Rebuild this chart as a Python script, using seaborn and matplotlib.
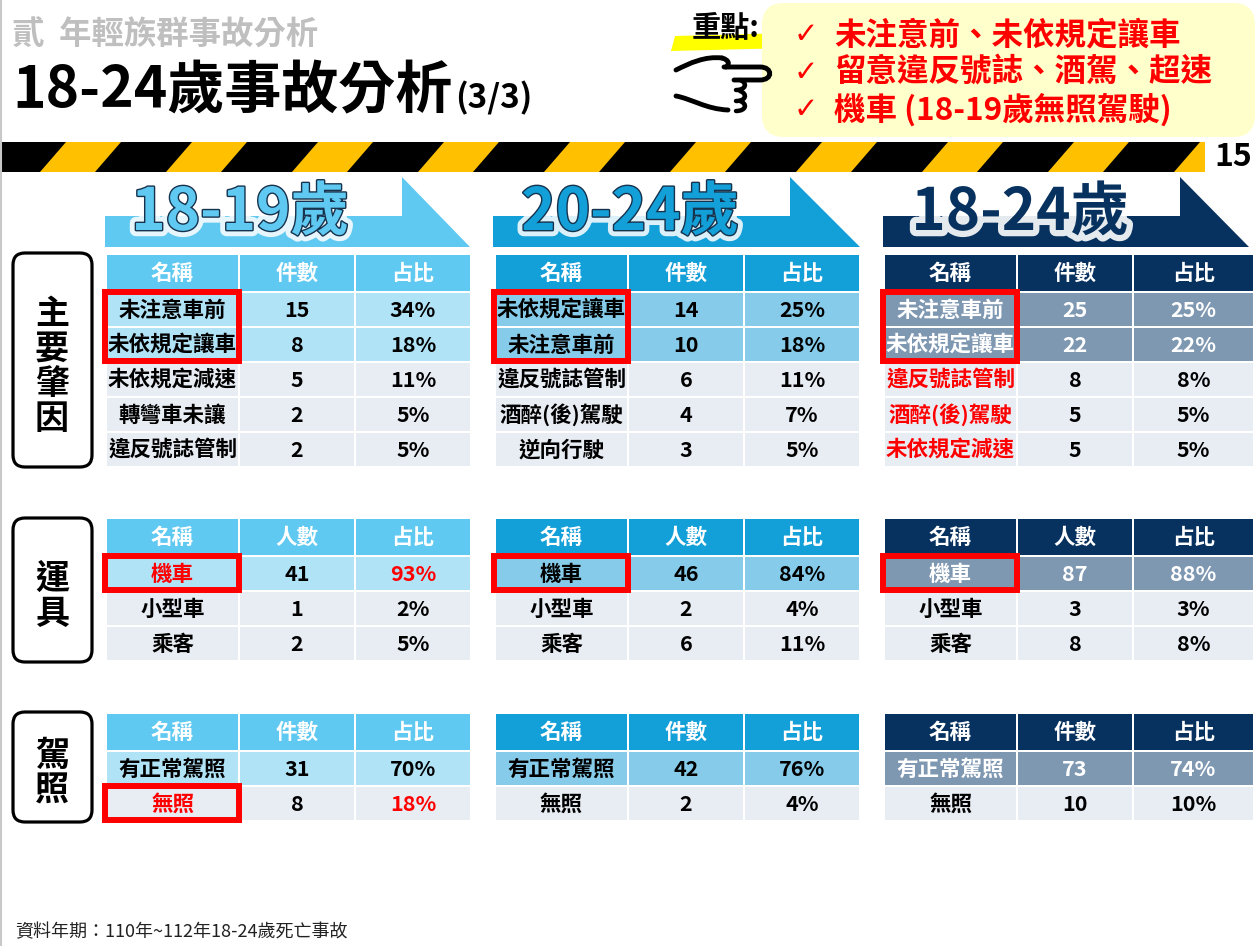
import numpy as np
import matplotlib.pyplot as plt
import seaborn as sns
from matplotlib.patches import Rectangle, Polygon, FancyBboxPatch, PathPatch
from matplotlib.path import Path
import matplotlib.patheffects as pe

sns.set_theme(style="white")
plt.rcParams['font.family'] = ['Noto Sans CJK TC', 'DejaVu Sans']

# Data

groups = ["18-19歲", "20-24歲", "18-24歲"]

cause_cols = ["名稱", "件數", "占比"]
cause_names = [
    ["未注意車前", "未依規定讓車", "未依規定減速", "轉彎車未讓", "違反號誌管制"],
    ["未依規定讓車", "未注意車前", "違反號誌管制", "酒醉(後)駕駛", "逆向行駛"],
    ["未注意車前", "未依規定讓車", "違反號誌管制", "酒醉(後)駕駛", "未依規定減速"],
]
cause_counts = [[15, 8, 5, 2, 2], [14, 10, 6, 4, 3], [25, 22, 8, 5, 5]]
cause_share = [[34, 18, 11, 5, 5], [25, 18, 11, 7, 5], [25, 22, 8, 5, 5]]

vehicle_cols = ["名稱", "人數", "占比"]
vehicle_names = ["機車", "小型車", "乘客"]
vehicle_counts = [[41, 1, 2], [46, 2, 6], [87, 3, 8]]
vehicle_share = [[93, 2, 5], [84, 4, 11], [88, 3, 8]]

license_cols = ["名稱", "件數", "占比"]
license_names = ["有正常駕照", "無照"]
license_counts = [[31, 8], [42, 2], [73, 10]]
license_share = [[70, 18], [76, 4], [74, 10]]

key_points = ["未注意前、未依規定讓車", "留意違反號誌、酒駕、超速", "機車 (18-19歲無照駕駛)"]
side_labels = ["主要肇因", "運具", "駕照"]

# Styles

header_colors = ["#5FC9F1", "#139FD7", "#07325F"]
shade_colors = ["#B1E3F7", "#86CCEA", "#7F98B2"]
shade_text = ["black", "black", "white"]
body_color = "#E8ECF3"
red = "#FF0000"

fig = plt.figure(figsize=(12.58, 9.46), dpi=100)
ax = fig.add_axes([0, 0, 1, 1])
ax.set_xlim(0, 1258)
ax.set_ylim(946, 0)
ax.axis("off")

ax.plot([1, 1], [0, 946], color="#C8C8C8", lw=1.5)

# Title area

ax.text(12, 34, "貳  年輕族群事故分析", fontsize=23.3, fontweight="bold",
        color="#BFBFBF", ha="left", va="center")
title = ax.text(12, 108, "18-24歲事故分析", fontsize=41, fontweight="bold",
                color="black", ha="left", va="baseline")
fig.canvas.draw()
bb = title.get_window_extent().transformed(ax.transData.inverted())
ax.text(bb.x1 + 3, 108, "(3/3)", fontsize=24, fontweight="bold",
        color="black", ha="left", va="baseline")

# key points box

ax.add_patch(Polygon([(675, 36), (790, 33), (790, 48), (671, 51)],
                     closed=True, facecolor="#FFFF00", edgecolor="none"))
ax.add_patch(FancyBboxPatch((762, 3), 493, 134,
                            boxstyle="round,pad=0,rounding_size=22",
                            facecolor="#FFFFCC", edgecolor="none"))
ax.text(726, 28, "重點:", fontsize=21, fontweight="bold",
        color="black", ha="center", va="center")

for i, line in enumerate(key_points):
    y = 35 + i * 37.5
    ax.text(806, y, "✓", fontsize=21, fontweight="bold", color=red,
            ha="center", va="center", family="DejaVu Sans")
    ax.text(834, y, line, fontsize=22.7, fontweight="bold", color=red,
            ha="left", va="center")

# pointing hand
hand = [
    [(676, 70), (690, 63), (705, 56), (722, 58)],
    [(722, 58), (729, 60), (730, 64), (726, 67)],
    [(676, 96), (692, 99), (706, 109), (728, 110)],
]
for seg in hand:
    ax.add_patch(PathPatch(Path(seg, [Path.MOVETO, Path.CURVE4, Path.CURVE4, Path.CURVE4]),
                           facecolor="none", edgecolor="black", lw=3.5, capstyle="round"))
finger = Path([(724, 67), (760, 67), (773, 67), (773, 80), (760, 80), (734, 80)],
              [Path.MOVETO, Path.LINETO, Path.CURVE4, Path.CURVE4, Path.CURVE4, Path.LINETO])
ax.add_patch(PathPatch(finger, facecolor="none", edgecolor="black", lw=3.5, capstyle="round"))
for y0 in [80, 91, 101]:
    knuckle = Path([(740, y0), (748, y0 + 3), (746, y0 + 10), (736, y0 + 10)],
                   [Path.MOVETO, Path.CURVE4, Path.CURVE4, Path.CURVE4])
    ax.add_patch(PathPatch(knuckle, facecolor="none", edgecolor="black", lw=3.2, capstyle="round"))

# hazard stripe bar
bar = Rectangle((0, 142), 1205, 30, facecolor="black", edgecolor="none")
ax.add_patch(bar)
for k in range(10):
    x0 = 40 + k * 126
    stripe = Polygon([(x0, 172), (x0 + 55, 172), (x0 + 81, 142), (x0 + 26, 142)],
                     closed=True, facecolor="#FFC000", edgecolor="none")
    ax.add_patch(stripe)
    stripe.set_clip_path(bar)
ax.text(1233, 157, "15", fontsize=23, fontweight="bold", color="black",
        ha="center", va="center")

# Group arrows

arrow_left = [105, 493, 883]
arrow_head = [402, 790, 1180]
arrow_tip = [470, 860, 1249]
label_x = [240, 630, 1020]
for g in range(3):
    poly = [(arrow_left[g], 216), (arrow_head[g], 216), (arrow_head[g], 177),
            (arrow_tip[g], 247), (arrow_left[g], 247)]
    ax.add_patch(Polygon(poly, closed=True, facecolor=header_colors[g], edgecolor="none"))
    if g < 2:
        effects = [pe.Stroke(linewidth=9, foreground="white", alpha=0.85),
                   pe.Stroke(linewidth=2.0, foreground="#16324d"), pe.Normal()]
    else:
        effects = [pe.Stroke(linewidth=9, foreground="white", alpha=0.9), pe.Normal()]
    ax.text(label_x[g], 213, groups[g], fontsize=42, fontweight="bold",
            color=header_colors[g], ha="center", va="center", path_effects=effects)

# Tables

table_x = [107, 496, 885]
col_off = [0, 133, 249]
col_w = [[131, 114, 114], [131, 114, 114], [131, 114, 119]]


def draw_table(g, top, cols, names, counts, shares, n_shade,
               red_rows=(), red_names=(), red_share=()):
    x = table_x[g]
    for c in range(3):
        ax.add_patch(Rectangle((x + col_off[c], top), col_w[g][c], 36,
                               facecolor=header_colors[g], edgecolor="none"))
        ax.text(x + col_off[c] + col_w[g][c] / 2, top + 18, cols[c], fontsize=15.5,
                fontweight="bold", color="white", ha="center", va="center")
    for r in range(len(names)):
        y = top + 38 + r * 35
        shaded = r < n_shade
        fc = shade_colors[g] if shaded else body_color
        tc = shade_text[g] if shaded else "black"
        cells = [names[r], str(counts[r]), f"{shares[r]}%"]
        colors = [red if r in red_names else tc, tc, red if r in red_share else tc]
        for c in range(3):
            ax.add_patch(Rectangle((x + col_off[c], y), col_w[g][c], 33,
                                   facecolor=fc, edgecolor="none"))
            ax.text(x + col_off[c] + col_w[g][c] / 2, y + 17, cells[c], fontsize=15.5,
                    fontweight="bold", color=colors[c], ha="center", va="center")
    if red_rows:
        r0, r1 = min(red_rows), max(red_rows)
        y0 = top + 38 + r0 * 35 - 1
        y1 = top + 38 + r1 * 35 + 33
        ax.add_patch(Rectangle((x - 2, y0), 134, y1 - y0, facecolor="none",
                               edgecolor=red, lw=4.3))


for g in range(3):
    draw_table(g, 255, cause_cols, cause_names[g], cause_counts[g], cause_share[g], 2,
               red_rows=(0, 1), red_names=(2, 3, 4) if g == 2 else ())
    draw_table(g, 519, vehicle_cols, vehicle_names, vehicle_counts[g], vehicle_share[g], 1,
               red_rows=(0,), red_names=(0,) if g == 0 else (),
               red_share=(0,) if g == 0 else ())
    draw_table(g, 714, license_cols, license_names, license_counts[g], license_share[g], 1,
               red_rows=(1,) if g == 0 else (), red_names=(1,) if g == 0 else (),
               red_share=(1,) if g == 0 else ())

# Side labels

side_boxes = [(253, 467), (518, 662), (712, 822)]
for label, (y0, y1) in zip(side_labels, side_boxes):
    ax.add_patch(FancyBboxPatch((13, y0), 79, y1 - y0,
                                boxstyle="round,pad=0,rounding_size=12",
                                facecolor="white", edgecolor="black", lw=2.3))
    ax.text(52, (y0 + y1) / 2 + 6, "\n".join(label), fontsize=24.5, fontweight="bold",
            color="black", ha="center", va="center", linespacing=1.0)

ax.text(15, 932, "資料年期：110年~112年18-24歲死亡事故", fontsize=13,
        color="#222222", ha="left", va="center")

fig.savefig("out.png", dpi=100)
